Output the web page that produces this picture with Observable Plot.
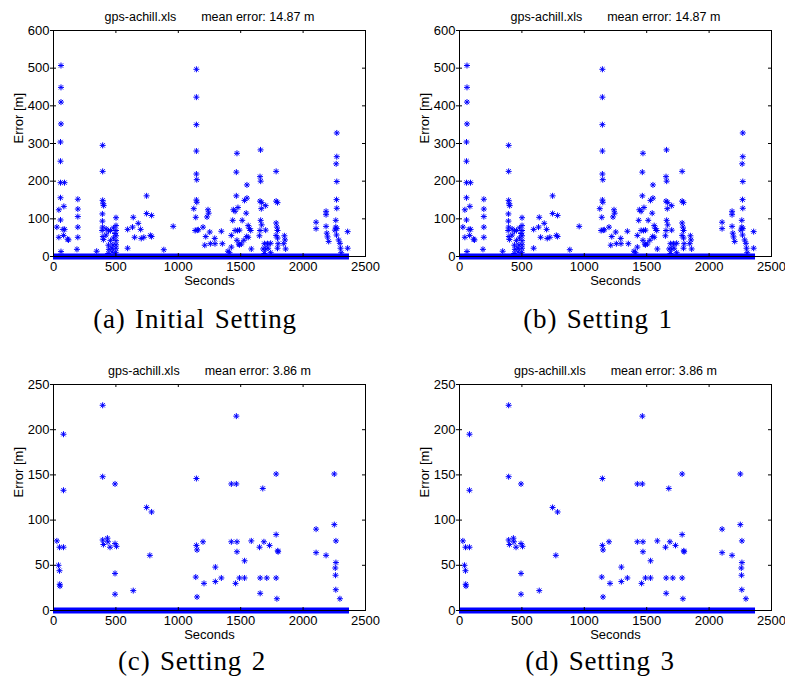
<!DOCTYPE html>
<html><head><meta charset="utf-8">
<script src="https://cdn.jsdelivr.net/npm/d3@7"></script>
<script src="https://cdn.jsdelivr.net/npm/@observablehq/plot@0.6"></script>
<style>
body{margin:0;background:#fff;}
#root{position:relative;width:785px;height:690px;background:#fff;overflow:hidden;}
.panel{position:absolute;}
.cap{position:absolute;font-family:"Liberation Serif",serif;font-size:27px;letter-spacing:0.8px;word-spacing:2px;transform:translateX(-50%);white-space:nowrap;line-height:25px;color:#000;}
</style></head><body><div id="root"></div>
<script>
const fileName = "gps-achill.xls";
const meanErrors = ["14.87", "14.87", "3.86", "3.86"];
const captions = ["(a) Initial Setting", "(b) Setting 1", "(c) Setting 2", "(d) Setting 3"];
const xLabel = "Seconds";
const yLabel = "Error [m]";
const xTicks = [0, 500, 1000, 1500, 2000, 2500];
const yTicksA = [0, 100, 200, 300, 400, 500, 600];
const yTicksC = [0, 50, 100, 150, 200, 250];
// continuous run of zero-error samples
const zeroRunStart = [0];
const zeroRunEnd = [2372];

// Initial Setting / Setting 1
const secA = [60,60,60,60,56,56,56,88,56,83,43,56,27,76,89,43,81,113,120,60,
  195,195,195,195,195,188,346,394,394,394,398,402,392,392,394,390,396,400,
  422,441,456,480,493,456,422,440,444,438,470,501,501,501,501,501,501,501,498,480,476,470,
  594,639,633,679,698,703,650,724,594,746,746,786,776,786,884,959,
  1145,1145,1145,1145,1145,1148,1145,1148,1124,1140,1135,1152,1160,1198,
  1238,1243,1230,1252,1220,1292,1257,1212,1345,1353,1294,1398,1425,1410,
  1470,1465,1550,1465,1530,1550,1441,1455,1478,1436,1512,1544,1425,1455,1475,1490,1470,1485,
  1560,1570,1580,1548,1560,1525,1505,1490,1585,
  1659,1655,1660,1655,1668,1700,1665,1660,1668,1655,1700,1650,1690,1715,1740,1680,1700,1720,1740,1690,
  1784,1784,1795,1784,1790,1795,1784,1795,1850,1855,1845,1800,1795,1860,
  2104,2104,2184,2184,2184,2190,2196,2205,
  2270,2270,2265,2270,2268,2270,2262,2262,2270,2255,2268,2285,2295,2300,2305,2357,2357];
const errA = [507,449,410,352,304,253,196,196,156,133,124,97,78,72,72,51,56,46,44,13,
  152,126,106,78,51,19,14,295,226,149,140,135,113,94,78,69,53,45,
  73,68,69,76,61,42,57,30,19,8,22,103,82,69,55,42,31,22,11,49,31,12,
  72,104,78,88,72,48,51,51,22,161,114,109,56,53,18,80,
  497,423,350,280,219,204,150,144,127,104,69,70,71,78,
  124,115,105,65,53,48,34,30,67,34,34,14,25,10,
  274,224,190,161,149,155,124,120,130,96,96,115,56,69,69,70,43,33,
  82,74,69,53,51,43,33,31,20,
  283,212,200,147,143,135,127,96,84,69,70,55,34,34,35,20,20,22,10,8,
  226,147,143,89,78,69,56,49,55,44,34,34,22,20,
  91,74,120,111,80,62,52,40,
  328,265,246,199,151,128,96,78,74,70,57,44,35,22,10,66,22];

// Setting 2 / Setting 3
const secC = [27,48,80,40,48,50,52,80,80,394,394,493,394,400,432,436,453,493,505,493,493,639,746,786,772,
  1145,1145,1150,1140,1150,1198,1206,1297,1297,1345,1425,1465,1465,1425,1470,1470,1531,1459,1490,1531,
  1585,1651,1686,1731,1677,1656,1709,1656,1784,1784,1797,1800,1784,1790,
  2104,2104,2184,2250,2250,2263,2263,2258,2260,2262,2295];
const errC = [77,70,70,50,44,29,27,195,133,227,148,140,78,73,80,76,70,74,71,41,18,22,114,109,61,
  146,72,67,37,15,76,30,48,32,36,140,140,215,76,76,65,55,30,36,36,
  77,70,76,72,135,36,36,19,151,84,66,65,36,13,
  90,64,61,151,95,77,53,47,39,23,13];

const star = {
  draw(ctx, size) {
    const r = Math.sqrt(size / Math.PI), q = r * 0.7071;
    ctx.moveTo(-r, 0); ctx.lineTo(r, 0);
    ctx.moveTo(0, -r); ctx.lineTo(0, r);
    ctx.moveTo(-q, -q); ctx.lineTo(q, q);
    ctx.moveTo(-q, q); ctx.lineTo(q, -q);
  }
};

const W = 379, H = 300, ML = 53, MR = 14, MT = 30, MB = 44;
const FW = W - ML - MR, FH = H - MT - MB, TK = 3;

function panel(sec, err, yTicks, mean) {
  const data = sec.map((s, i) => ({s, e: err[i]}));
  const runs = zeroRunStart.map((a, i) => ({a, b: zeroRunEnd[i]}));
  return Plot.plot({
    width: W, height: H, marginLeft: ML, marginRight: MR, marginTop: MT, marginBottom: MB,
    style: {fontFamily: "'Liberation Sans', Arial, sans-serif", fontSize: "13px", color: "#000", background: "transparent", overflow: "visible"},
    x: {domain: [xTicks[0], xTicks[xTicks.length - 1]]},
    y: {domain: [yTicks[0], yTicks[yTicks.length - 1]]},
    marks: [
      Plot.ruleY(runs, {x1: "a", x2: "b", y: 0, stroke: "#0000ff", strokeWidth: 6}),
      Plot.dot(data, {x: "s", y: "e", symbol: star, r: 3, fill: "none", stroke: "#0000ff", strokeWidth: 1}),
      Plot.frame({stroke: "#000"}),
      Plot.tickX(xTicks, {x: d => d, insetTop: FH - TK, stroke: "#000"}),
      Plot.tickX(xTicks, {x: d => d, insetBottom: FH - TK, stroke: "#000"}),
      Plot.tickY(yTicks, {y: d => d, insetRight: FW - TK, stroke: "#000"}),
      Plot.tickY(yTicks, {y: d => d, insetLeft: FW - TK, stroke: "#000"}),
      Plot.axisX(xTicks, {anchor: "bottom", tickSize: 0, tickPadding: 5, label: null, tickFormat: d => String(d)}),
      Plot.axisY(yTicks, {anchor: "left", tickSize: 3, tickPadding: 1, label: null, tickFormat: d => String(d)}),
      Plot.text([xLabel], {frameAnchor: "bottom", dy: 24, lineAnchor: "middle"}),
      Plot.text([yLabel], {frameAnchor: "left", dx: -35, rotate: -90, lineAnchor: "middle"}),
      Plot.text([`${fileName}\u2003\u2003mean error: ${mean} m`], {frameAnchor: "top", dy: -10, lineAnchor: "bottom", fontSize: 12.5})
    ]
  });
}

const root = document.getElementById("root");
const slots = [
  {left: 0, top: 0, sec: secA, err: errA, ticks: yTicksA, cx: 195, cy: 307},
  {left: 406, top: 0, sec: secA, err: errA, ticks: yTicksA, cx: 598, cy: 307},
  {left: 0, top: 354, sec: secC, err: errC, ticks: yTicksC, cx: 192, cy: 649},
  {left: 406, top: 354, sec: secC, err: errC, ticks: yTicksC, cx: 600, cy: 649}
];
slots.forEach((s, i) => {
  const d = document.createElement("div");
  d.className = "panel";
  d.style.left = s.left + "px"; d.style.top = s.top + "px";
  d.appendChild(panel(s.sec, s.err, s.ticks, meanErrors[i]));
  root.appendChild(d);
  const c = document.createElement("div");
  c.className = "cap";
  c.style.left = s.cx + "px"; c.style.top = s.cy + "px";
  c.textContent = captions[i];
  root.appendChild(c);
});
</script></body></html>
